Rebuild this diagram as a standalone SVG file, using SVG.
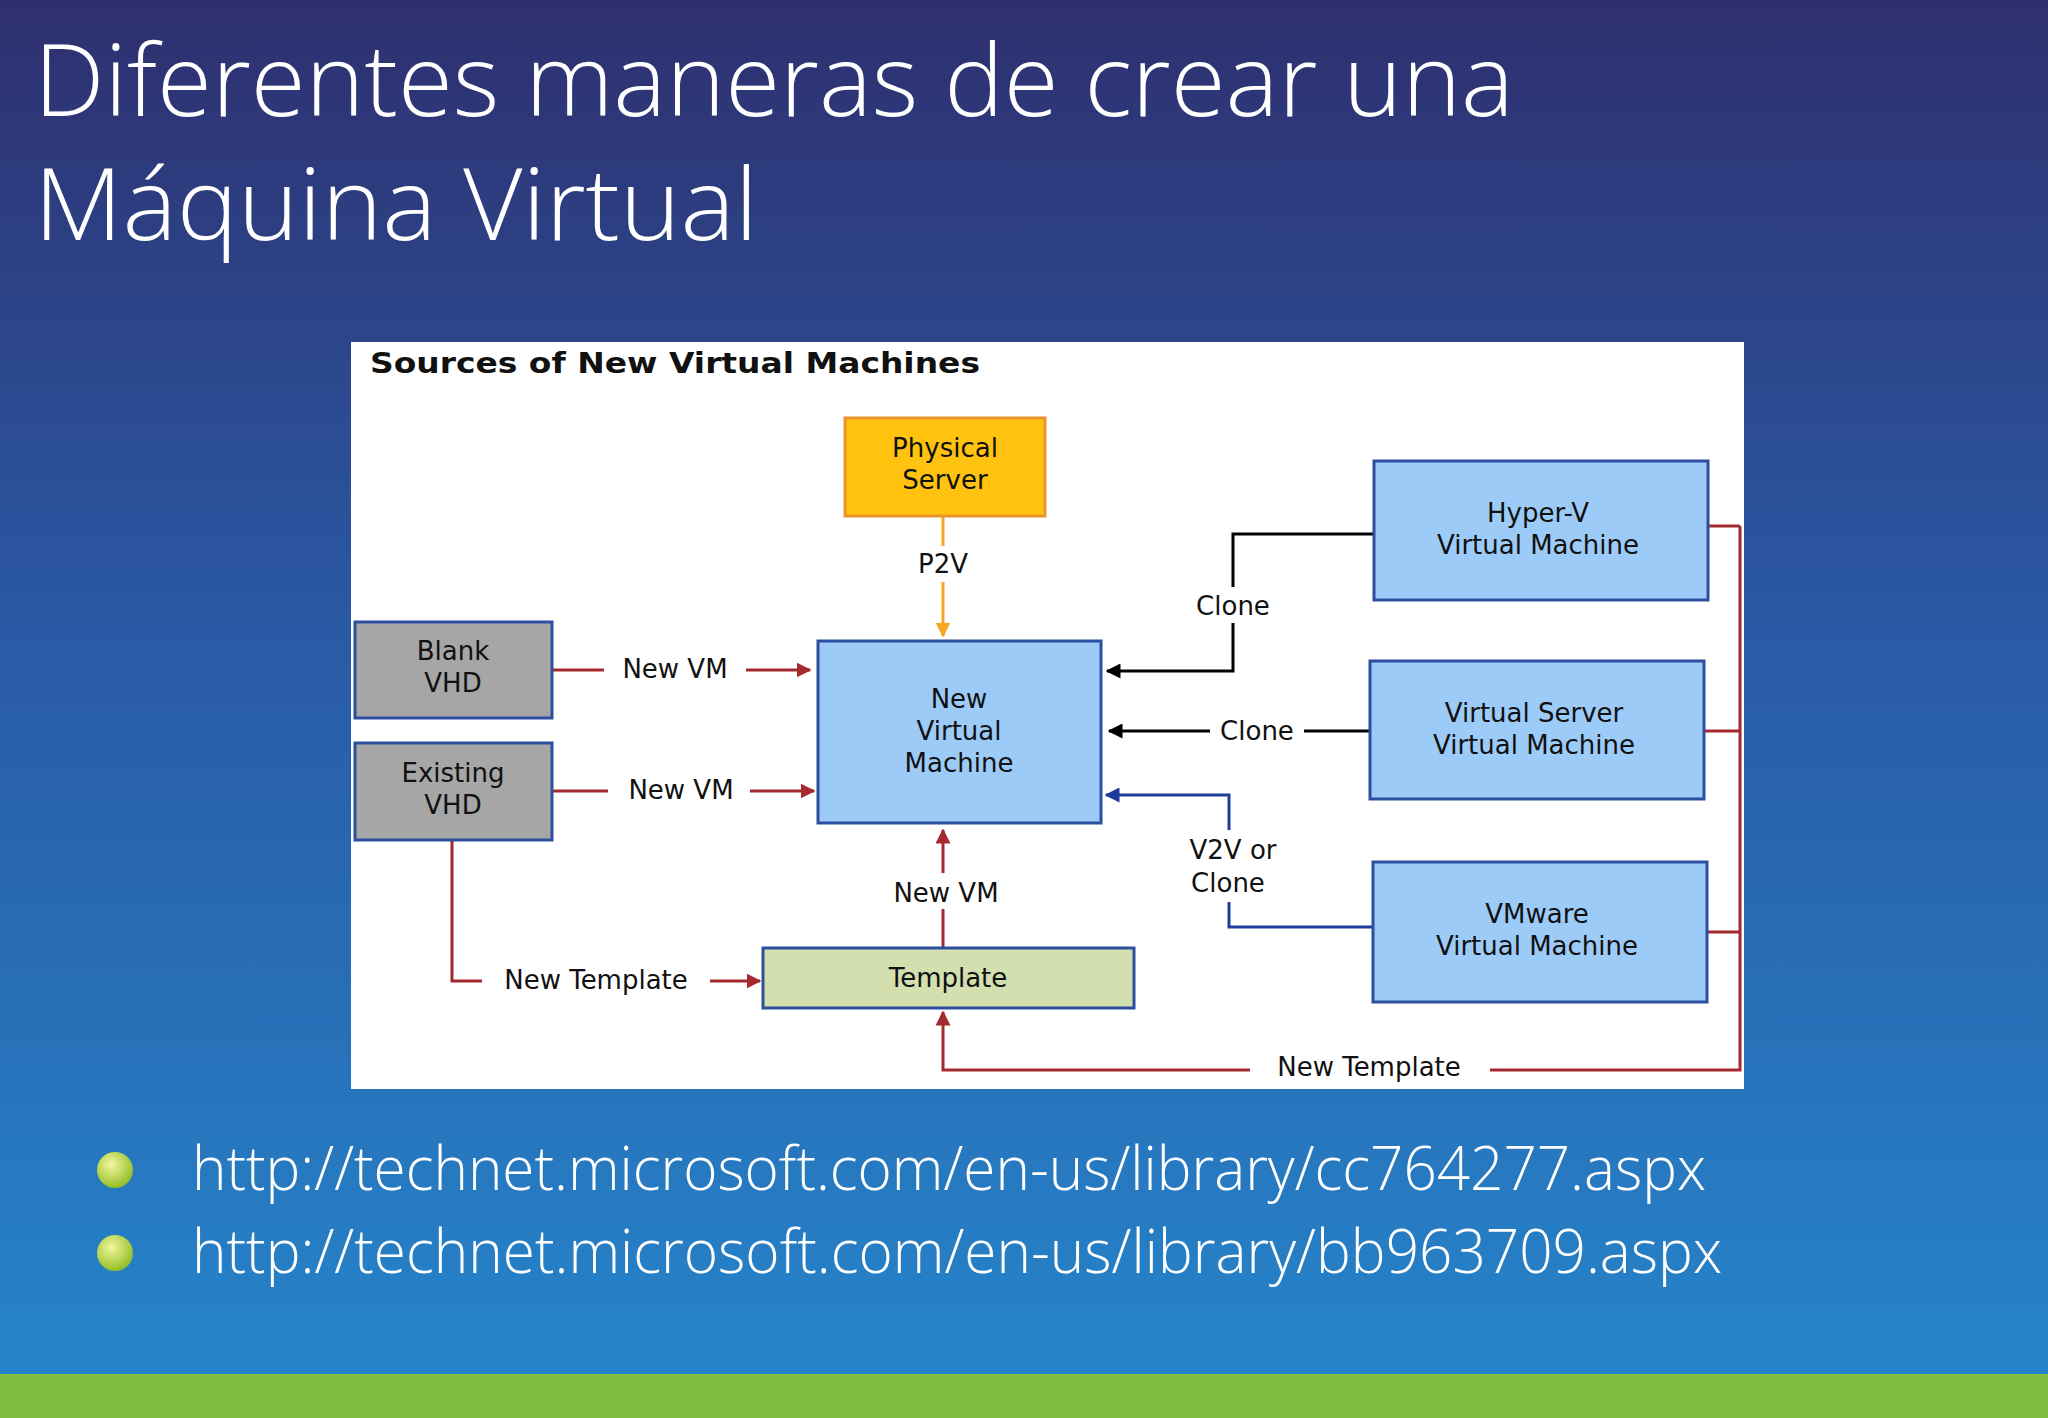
<svg xmlns="http://www.w3.org/2000/svg" width="2048" height="1418" viewBox="0 0 2048 1418">
<defs>
<linearGradient id="bg" x1="0" y1="0" x2="0" y2="1">
<stop offset="0" stop-color="#2E2F6E"/><stop offset="0.45" stop-color="#2A5AA6"/><stop offset="1" stop-color="#2587CC"/>
</linearGradient>
<radialGradient id="bul" cx="0.4" cy="0.35" r="0.7"><stop offset="0" stop-color="#F2F7A0"/><stop offset="1" stop-color="#8DBA1E"/></radialGradient>
<marker id="ar" viewBox="0 0 10 10" refX="9" refY="5" markerWidth="5" markerHeight="5" orient="auto-start-reverse"><path d="M0,0L10,5L0,10z" fill="#A52A2F"/></marker>
<marker id="ak" viewBox="0 0 10 10" refX="9" refY="5" markerWidth="5" markerHeight="5" orient="auto-start-reverse"><path d="M0,0L10,5L0,10z" fill="#000"/></marker>
<marker id="ab" viewBox="0 0 10 10" refX="9" refY="5" markerWidth="5" markerHeight="5" orient="auto-start-reverse"><path d="M0,0L10,5L0,10z" fill="#1F3C9A"/></marker>
<marker id="ao" viewBox="0 0 10 10" refX="9" refY="5" markerWidth="5" markerHeight="5" orient="auto-start-reverse"><path d="M0,0L10,5L0,10z" fill="#F5A623"/></marker>
</defs>
<style>
.t{font-family:"DejaVu Sans",Verdana,sans-serif;font-size:26px;fill:#111;text-anchor:middle}
.blue{fill:#9DCBF8;stroke:#2D4FA0;stroke-width:3}
.gray{fill:#A6A6A6;stroke:#2D4FA0;stroke-width:3}
.r{stroke:#A52A2F;stroke-width:3;fill:none}
.k{stroke:#000;stroke-width:3;fill:none}
.b{stroke:#1F3C9A;stroke-width:3;fill:none}
.lbl{fill:#fff}
.head{font-family:"Open Sans","Liberation Sans",sans-serif;font-weight:300;font-size:100px;fill:#fff}
.url{font-family:"Open Sans","Liberation Sans",sans-serif;font-weight:300;font-size:60px;fill:#fff}
</style>
<rect width="2048" height="1418" fill="url(#bg)"/>
<rect y="1374" width="2048" height="44" fill="#80BD3E"/>
<text class="head" x="34" y="116" textLength="1480" lengthAdjust="spacingAndGlyphs">Diferentes maneras de crear una</text>
<text class="head" x="34" y="240" textLength="724" lengthAdjust="spacingAndGlyphs">Máquina Virtual</text>
<circle cx="115" cy="1170" r="18" fill="url(#bul)"/>
<circle cx="115" cy="1253" r="18" fill="url(#bul)"/>
<text class="url" x="192" y="1190" textLength="1514" lengthAdjust="spacingAndGlyphs">http://technet.microsoft.com/en-us/library/cc764277.aspx</text>
<text class="url" x="192" y="1273" textLength="1530" lengthAdjust="spacingAndGlyphs">http://technet.microsoft.com/en-us/library/bb963709.aspx</text>
<rect x="351" y="342" width="1393" height="747" fill="#fff"/>
<text x="370" y="373" font-family="DejaVu Sans,Verdana,sans-serif" font-weight="bold" font-size="29" fill="#111" textLength="610" lengthAdjust="spacingAndGlyphs">Sources of New Virtual Machines</text>
<g id="connectors">
<path class="r" d="M552,670H810" marker-end="url(#ar)"/>
<path class="r" d="M552,791H814" marker-end="url(#ar)"/>
<path class="r" d="M943,948V830" marker-end="url(#ar)"/>
<path class="r" d="M452,840V981H760" marker-end="url(#ar)"/>
<path d="M943,516V636" stroke="#F5A623" stroke-width="3" fill="none" marker-end="url(#ao)"/>
<path class="k" d="M1374,534H1233V671H1107" marker-end="url(#ak)"/>
<path class="k" d="M1370,731H1109" marker-end="url(#ak)"/>
<path class="b" d="M1373,927H1229V795H1106" marker-end="url(#ab)"/>
<path class="r" d="M1708,526H1740M1704,731H1740M1707,932H1740M1740,526V1070H943V1012" marker-end="url(#ar)"/>
<rect class="lbl" x="604" y="650" width="142" height="36"/>
<rect class="lbl" x="608" y="771" width="142" height="36"/>
<rect class="lbl" x="880" y="873" width="126" height="36"/>
<rect class="lbl" x="482" y="961" width="228" height="36"/>
<rect class="lbl" x="910" y="546" width="66" height="36"/>
<rect class="lbl" x="1196" y="587" width="76" height="36"/>
<rect class="lbl" x="1210" y="713" width="94" height="36"/>
<rect class="lbl" x="1180" y="830" width="105" height="72"/>
<rect class="lbl" x="1250" y="1050" width="240" height="36"/>
<text class="t" x="675" y="678">New VM</text>
<text class="t" x="681" y="799">New VM</text>
<text class="t" x="946" y="902">New VM</text>
<text class="t" x="596" y="989">New Template</text>
<text class="t" x="943" y="573">P2V</text>
<text class="t" x="1233" y="615">Clone</text>
<text class="t" x="1257" y="740">Clone</text>
<text class="t" x="1233" y="859">V2V or</text>
<text class="t" x="1228" y="892">Clone</text>
<text class="t" x="1369" y="1076">New Template</text>
</g>
<g id="physical"><rect x="845" y="418" width="200" height="98" fill="#FFC20E" stroke="#E8952B" stroke-width="3"/><text class="t" x="945" y="457">Physical</text><text class="t" x="945" y="489">Server</text></g>
<g id="newvm"><rect class="blue" x="818" y="641" width="283" height="182"/><text class="t" x="959" y="708">New</text><text class="t" x="959" y="740">Virtual</text><text class="t" x="959" y="772">Machine</text></g>
<g id="blank"><rect class="gray" x="355" y="622" width="197" height="96"/><text class="t" x="453" y="660">Blank</text><text class="t" x="453" y="692">VHD</text></g>
<g id="existing"><rect class="gray" x="355" y="743" width="197" height="97"/><text class="t" x="453" y="782">Existing</text><text class="t" x="453" y="814">VHD</text></g>
<g id="template"><rect x="763" y="948" width="371" height="60" fill="#D3DFAE" stroke="#2D4FA0" stroke-width="3"/><text class="t" x="948" y="987">Template</text></g>
<g id="hyperv"><rect class="blue" x="1374" y="461" width="334" height="139"/><text class="t" x="1538" y="522">Hyper-V</text><text class="t" x="1538" y="554">Virtual Machine</text></g>
<g id="vserver"><rect class="blue" x="1370" y="661" width="334" height="138"/><text class="t" x="1534" y="722">Virtual Server</text><text class="t" x="1534" y="754">Virtual Machine</text></g>
<g id="vmware"><rect class="blue" x="1373" y="862" width="334" height="140"/><text class="t" x="1537" y="923">VMware</text><text class="t" x="1537" y="955">Virtual Machine</text></g>
</svg>
